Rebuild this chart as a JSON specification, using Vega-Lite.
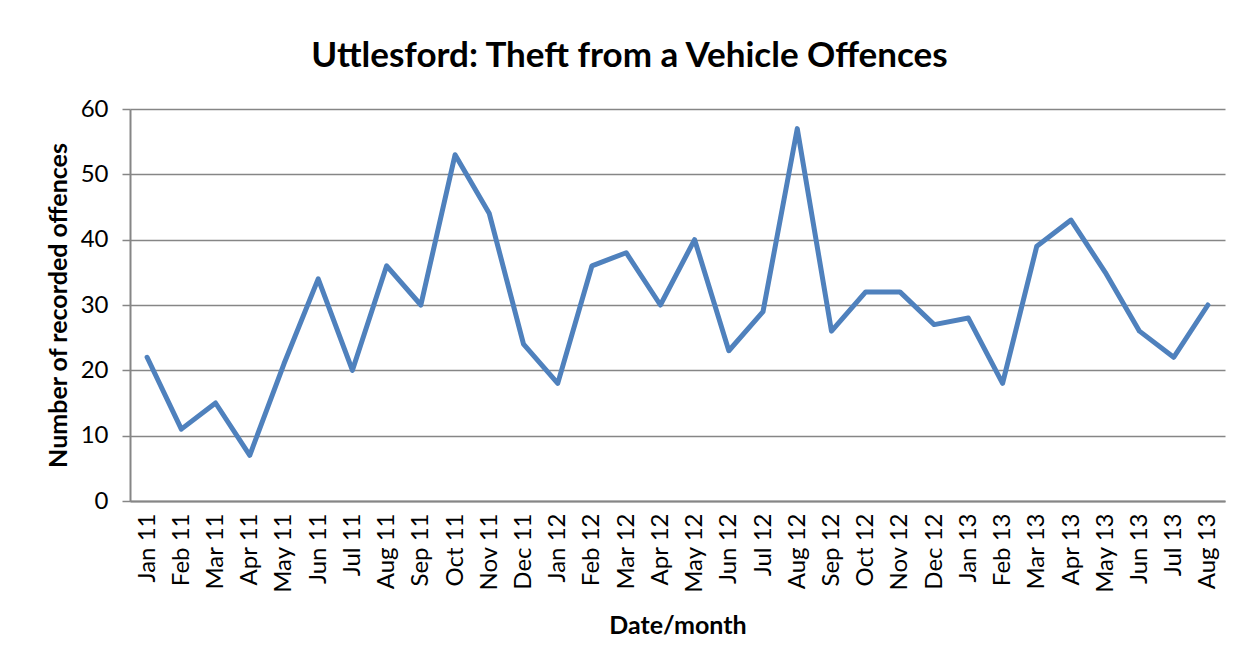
{
  "$schema": "https://vega.github.io/schema/vega-lite/v6.json",
  "autosize": "none",
  "width": 1095,
  "height": 392,
  "padding": {"left": 130, "top": 109, "right": 25, "bottom": 163},
  "background": "white",
  "title": {
    "text": "Uttlesford: Theft from a Vehicle Offences",
    "font": "Lato",
    "fontSize": 35,
    "fontWeight": "bold",
    "color": "#000000",
    "anchor": "middle",
    "dx": -48,
    "offset": 23
  },
  "data": {
    "values": [
      {"month": "Jan 11", "offences": 22},
      {"month": "Feb 11", "offences": 11},
      {"month": "Mar 11", "offences": 15},
      {"month": "Apr 11", "offences": 7},
      {"month": "May 11", "offences": 21},
      {"month": "Jun 11", "offences": 34},
      {"month": "Jul 11", "offences": 20},
      {"month": "Aug 11", "offences": 36},
      {"month": "Sep 11", "offences": 30},
      {"month": "Oct 11", "offences": 53},
      {"month": "Nov 11", "offences": 44},
      {"month": "Dec 11", "offences": 24},
      {"month": "Jan 12", "offences": 18},
      {"month": "Feb 12", "offences": 36},
      {"month": "Mar 12", "offences": 38},
      {"month": "Apr 12", "offences": 30},
      {"month": "May 12", "offences": 40},
      {"month": "Jun 12", "offences": 23},
      {"month": "Jul 12", "offences": 29},
      {"month": "Aug 12", "offences": 57},
      {"month": "Sep 12", "offences": 26},
      {"month": "Oct 12", "offences": 32},
      {"month": "Nov 12", "offences": 32},
      {"month": "Dec 12", "offences": 27},
      {"month": "Jan 13", "offences": 28},
      {"month": "Feb 13", "offences": 18},
      {"month": "Mar 13", "offences": 39},
      {"month": "Apr 13", "offences": 43},
      {"month": "May 13", "offences": 35},
      {"month": "Jun 13", "offences": 26},
      {"month": "Jul 13", "offences": 22},
      {"month": "Aug 13", "offences": 30}
    ]
  },
  "mark": {"type": "line", "color": "#4F81BD", "strokeWidth": 5, "strokeJoin": "round", "strokeCap": "round"},
  "encoding": {
    "x": {
      "field": "month",
      "type": "ordinal",
      "sort": null,
      "scale": {"type": "point", "padding": 0.5},
      "axis": {
        "title": "Date/month",
        "titleFont": "Lato",
        "titleFontSize": 25,
        "titleFontWeight": "bold",
        "titleColor": "#000000",
        "titlePadding": 21,
        "labelFont": "Lato",
        "labelFontSize": 24,
        "labelColor": "#000000",
        "labelAngle": 270,
        "labelPadding": 12,
        "ticks": false,
        "domainColor": "#868686",
        "domainWidth": 2,
        "grid": false
      }
    },
    "y": {
      "field": "offences",
      "type": "quantitative",
      "scale": {"domain": [0, 60]},
      "axis": {
        "values": [0, 10, 20, 30, 40, 50, 60],
        "title": "Number of recorded offences",
        "titleFont": "Lato",
        "titleFontSize": 25,
        "titleFontWeight": "bold",
        "titleColor": "#000000",
        "titlePadding": 9,
        "labelFont": "Lato",
        "labelFontSize": 24,
        "labelColor": "#000000",
        "labelPadding": 14,
        "tickSize": 8,
        "tickColor": "#868686",
        "tickWidth": 1.5,
        "domainColor": "#868686",
        "domainWidth": 2,
        "grid": true,
        "gridColor": "#868686",
        "gridWidth": 1.5
      }
    }
  },
  "config": {"view": {"stroke": null}}
}
